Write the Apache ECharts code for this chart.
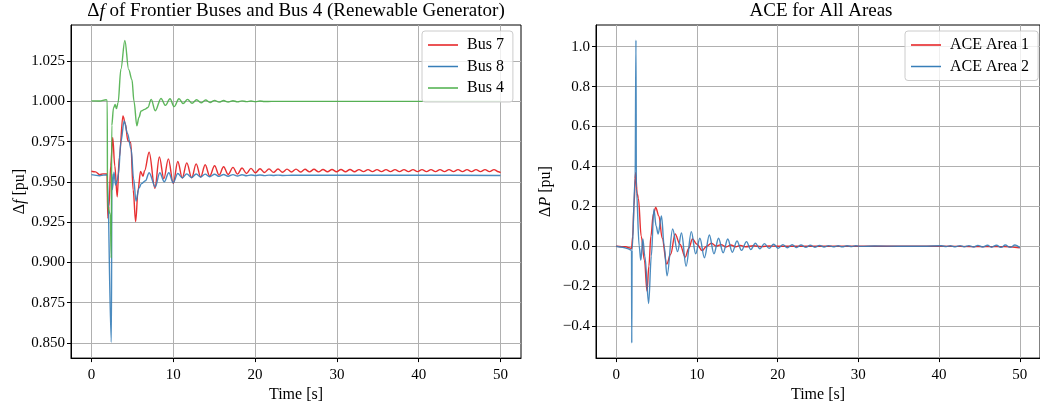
<!DOCTYPE html>
<html>
<head>
<meta charset="utf-8">
<script src="https://cdn.jsdelivr.net/npm/echarts@6/dist/echarts.min.js"></script>
<style>
html, body { margin: 0; padding: 0; background: #fff; }
#main { width: 1040px; height: 408px; }
</style>
</head>
<body>
<div id="main"></div>
<script>
// tick labels
var xTicks = [0, 10, 20, 30, 40, 50];
var freqTicks = [0.850, 0.875, 0.900, 0.925, 0.950, 0.975, 1.000, 1.025];
var aceTicks = [-0.4, -0.2, 0.0, 0.2, 0.4, 0.6, 0.8, 1.0];

// left panel: frequency at frontier buses, [time s, pu]
var bus7 = [
    [0, 0.9566], [0.5, 0.9562], [1.0, 0.9545], [1.4, 0.9550], [1.9, 0.9549], [2.0, 0.9275], [2.15, 0.935],
    [2.35, 0.960], [2.6, 0.9776], [2.85, 0.960], [3.15, 0.9407], [3.4, 0.965], [3.85, 0.991], [4.15, 0.986],
    [4.45, 0.9755], [4.8, 0.9745], [5.1, 0.945], [5.4, 0.9253], [5.7, 0.945], [6.0, 0.9565], [6.3, 0.9535],
    [6.5, 0.957], [7.05, 0.9684], [7.75, 0.9460], [8.3, 0.9655], [8.85, 0.9520], [9.4, 0.9643], [10.0, 0.9490],
    [10.55, 0.9627], [11.1, 0.9524], [11.65, 0.9618], [12.25, 0.9526], [12.8, 0.9612], [13.35, 0.9530],
    [13.9, 0.9606], [14.45, 0.9536], [15.05, 0.9600], [15.6, 0.9542], [16.15, 0.9594], [16.7, 0.9546],
    [17.3, 0.9590], [17.85, 0.9548], [18.4, 0.9586], [18.95, 0.9552], [19.5, 0.9584], [20.05, 0.9556],
    [20.6, 0.9582], [21.15, 0.9558], [21.7, 0.9581], [22.25, 0.9559], [22.8, 0.9580], [23.35, 0.9560],
    [23.9, 0.9579], [24.45, 0.9561], [25.0, 0.9579], [25.55, 0.9561], [26.1, 0.9578], [26.65, 0.9562],
    [27.2, 0.9578], [27.75, 0.9562], [28.3, 0.9577], [28.85, 0.9563], [29.4, 0.9577], [29.95, 0.9563],
    [30.5, 0.9577], [31.05, 0.9563], [31.6, 0.9577], [32.15, 0.9563], [32.7, 0.9576], [33.25, 0.9564],
    [33.8, 0.9576], [34.35, 0.9564], [34.9, 0.9576], [35.45, 0.9564], [36.0, 0.9576], [36.55, 0.9564],
    [37.1, 0.9576], [37.65, 0.9564], [38.2, 0.9576], [38.75, 0.9564], [39.3, 0.9576], [39.85, 0.9564],
    [40.4, 0.9576], [40.95, 0.9564], [41.5, 0.9576], [42.05, 0.9564], [42.6, 0.9576], [43.15, 0.9564],
    [43.7, 0.9576], [44.25, 0.9564], [44.8, 0.9576], [45.35, 0.9564], [45.9, 0.9576], [46.45, 0.9564],
    [47.0, 0.9576], [47.55, 0.9564], [48.1, 0.9576], [48.65, 0.9564], [49.2, 0.9576], [49.75, 0.9563],
    [50.0, 0.9558]
];
var bus8 = [
    [0, 0.9545], [1.0, 0.9538], [1.5, 0.9542], [1.93, 0.9543], [2.43, 0.8504], [2.5, 0.955], [2.55, 0.945],
    [2.75, 0.956], [2.95, 0.948], [3.15, 0.951], [3.3, 0.955], [3.6, 0.975], [4.0, 0.9879], [4.4, 0.980],
    [4.85, 0.9704], [5.15, 0.952], [5.45, 0.938], [5.8, 0.946], [6.1, 0.9489], [6.6, 0.9507], [7.05, 0.9557],
    [7.8, 0.9469], [8.35, 0.9557], [8.9, 0.9500], [9.45, 0.9557], [10.0, 0.9495], [10.55, 0.9552],
    [11.1, 0.9525], [11.65, 0.9550], [12.25, 0.9527], [12.8, 0.9549], [13.35, 0.9530], [13.9, 0.9548],
    [14.45, 0.9532], [15.05, 0.9547], [15.6, 0.9534], [16.15, 0.9546], [16.7, 0.9535], [17.3, 0.9545],
    [17.85, 0.9537], [18.4, 0.9544], [18.95, 0.9538], [19.5, 0.9543], [20.05, 0.9539], [20.6, 0.9543],
    [21.15, 0.9539], [21.7, 0.9542], [22.25, 0.9540], [22.8, 0.9542], [23.35, 0.9540], [24.5, 0.9541],
    [30.0, 0.9541], [40.0, 0.9541], [50.0, 0.9540]
];
var bus4 = [
    [0, 1.0003], [1.0, 1.0002], [1.8, 1.0010], [1.93, 1.0005], [1.96, 0.935], [2.3, 0.930], [2.42, 0.9027],
    [2.48, 0.985], [2.7, 0.996], [2.9, 0.998], [3.05, 0.9955], [3.25, 0.999], [3.6, 1.020], [4.08, 1.0378],
    [4.55, 1.0197], [4.95, 1.0135], [5.2, 1.000], [5.55, 0.9848], [5.8, 0.990], [6.07, 0.994], [6.5, 0.995],
    [6.9, 0.9962], [7.3, 1.0012], [7.8, 0.9942], [8.5, 1.0018], [9.05, 0.9975], [9.6, 1.0016], [10.1, 0.9967],
    [10.7, 1.0016], [11.2, 0.9986], [11.75, 1.0012], [12.3, 0.9988], [12.85, 1.0010], [13.4, 0.9991],
    [13.95, 1.0008], [14.5, 0.9993], [15.05, 1.0006], [15.6, 0.9995], [16.15, 1.0005], [16.7, 0.9996],
    [17.3, 1.0004], [17.85, 0.9997], [18.4, 1.0003], [18.95, 0.9998], [19.5, 1.0002], [20.05, 0.9998],
    [20.6, 1.0002], [21.15, 0.9999], [22.0, 1.0000], [30.0, 1.0000], [40.0, 1.0000], [50.0, 1.0000]
];

// right panel: area control error, [time s, pu]
var aceArea1 = [
    [0, 0.0], [0.7, -0.002], [1.2, -0.003], [1.6, -0.008], [1.9, -0.012], [2.05, 0.05], [2.2, 0.2],
    [2.4, 0.37], [2.6, 0.265], [2.75, 0.24], [3.1, 0.05], [3.5, -0.07], [3.82, -0.225], [4.05, -0.1],
    [4.3, 0.05], [4.6, 0.16], [4.9, 0.194], [5.3, 0.15], [5.7, 0.04], [6.26, -0.09], [6.75, -0.04],
    [7.3, 0.061], [7.9, 0.01], [8.55, -0.055], [9.0, -0.01], [9.45, 0.036], [10.0, 0.01], [10.65, -0.022],
    [11.2, 0.0], [11.8, 0.015], [12.4, 0.0], [13.0, 0.008], [13.6, -0.004], [14.2, 0.006], [14.8, -0.003],
    [15.4, 0.004], [16.0, -0.003], [17.0, 0.002], [18.0, -0.002], [19.0, 0.001], [20.0, 0.0], [30.0, 0.0],
    [40.0, 0.0], [45.0, -0.002], [48.0, -0.002], [50.0, -0.008]
];
var aceArea2 = [
    [0, 0.0], [0.8, -0.005], [1.4, -0.012], [1.9, -0.02], [1.93, -0.485], [1.97, -0.02], [2.35, 0.34],
    [2.45, 1.033], [2.5, 0.29], [2.85, 0.0], [3.05, -0.07], [3.3, 0.036], [3.55, -0.05], [4.02, -0.287],
    [4.35, -0.05], [4.67, 0.185], [4.95, 0.1], [5.2, 0.061], [5.61, 0.152], [5.95, 0.0], [6.3, -0.149],
    [6.99, 0.086], [7.6, -0.027], [8.09, 0.066], [8.66, -0.1], [9.31, 0.073], [9.84, -0.038], [10.37, 0.04],
    [10.93, -0.058], [11.54, 0.056], [12.11, -0.038], [12.68, 0.04], [13.25, -0.033], [13.82, 0.036],
    [14.39, -0.03], [14.96, 0.026], [15.53, -0.021], [16.14, 0.023], [16.67, -0.017], [17.24, 0.015],
    [17.8, -0.013], [18.37, 0.013], [18.94, -0.011], [19.5, 0.010], [20.08, -0.010], [20.65, 0.008],
    [21.2, -0.008], [21.8, 0.007], [22.35, -0.007], [22.9, 0.006], [23.5, -0.006], [24.05, 0.005],
    [24.6, -0.005], [25.2, 0.004], [25.75, -0.004], [26.3, 0.003], [26.9, -0.003], [27.5, 0.002],
    [28.0, -0.003], [28.6, 0.002], [29.2, -0.002], [29.7, 0.002], [30.3, -0.001], [32.0, 0.001],
    [35.0, 0.0], [38.0, 0.0], [40.3, 0.002], [40.9, -0.002], [41.4, 0.002], [42.0, -0.003], [42.6, 0.003],
    [43.1, -0.003], [43.7, 0.003], [44.3, -0.004], [44.8, 0.004], [45.4, -0.004], [46.0, 0.005],
    [46.5, -0.005], [47.1, 0.005], [47.7, -0.006], [48.2, 0.006], [48.8, -0.006], [49.4, 0.006], [50.0, -0.007]
];

var serif = '"Liberation Serif", "DejaVu Serif", serif';
var red = '#e41a1c', blue = '#377eb8', green = '#4daf4a';

function timeAxis(gridIndex) {
    return {
        type: 'value',
        gridIndex: gridIndex,
        min: -2.5,
        max: 52.5,
        name: 'Time [s]',
        nameLocation: 'middle',
        nameGap: 27,
        nameTextStyle: { fontFamily: serif, fontSize: 16, color: '#000' },
        axisLine: { show: true, onZero: false, lineStyle: { color: '#000', width: 1 } },
        axisTick: { show: true, length: 4, customValues: xTicks, lineStyle: { color: '#000' } },
        axisLabel: { customValues: xTicks, fontFamily: serif, fontSize: 15, color: '#000', margin: 9 },
        splitLine: { show: true, lineStyle: { color: '#b0b0b0', width: 1 } }
    };
}

function valueAxis(gridIndex, min, max, ticks, digits, name) {
    return {
        type: 'value',
        gridIndex: gridIndex,
        min: min,
        max: max,
        name: name,
        nameLocation: 'middle',
        nameGap: 42,
        nameTextStyle: {
            fontFamily: serif, fontSize: 16, color: '#000',
            rich: {
                n: { fontFamily: serif, fontSize: 16, color: '#000' },
                i: { fontFamily: serif, fontSize: 16, color: '#000', fontStyle: 'italic' }
            }
        },
        axisLine: { show: true, onZero: false, lineStyle: { color: '#000', width: 1 } },
        axisTick: { show: true, length: 4, customValues: ticks, lineStyle: { color: '#000' } },
        axisLabel: {
            customValues: ticks, fontFamily: serif, fontSize: 15, color: '#000', margin: 6,
            formatter: function (v) { return v.toFixed(digits).replace('-', '\u2212'); }
        },
        splitLine: { show: true, lineStyle: { color: '#b0b0b0', width: 1 } }
    };
}

function lineSeries(name, data, color, xi, yi) {
    return {
        name: name,
        type: 'line',
        xAxisIndex: xi,
        yAxisIndex: yi,
        data: data,
        symbol: 'none',
        smooth: 0.35,
        smoothMonotone: 'x',
        animation: false,
        lineStyle: { color: color, width: 1.4, opacity: 0.9 },
        itemStyle: { color: color }
    };
}

var legendBase = {
    orient: 'vertical',
    icon: 'rect',
    itemWidth: 30,
    itemHeight: 1.5,
    itemGap: 5.5,
    backgroundColor: 'rgba(255,255,255,0.8)',
    borderColor: '#cccccc',
    borderWidth: 1,
    borderRadius: 3,
    padding: [6, 9, 6, 6],
    textStyle: { fontFamily: serif, fontSize: 16, color: '#000', padding: [0, 0, 0, 4] }
};

var titleRich = {
    n: { fontFamily: serif, fontSize: 19, fontWeight: 'normal', color: '#000' },
    i: { fontFamily: serif, fontSize: 19, fontWeight: 'normal', color: '#000', fontStyle: 'italic' }
};

var myChart = echarts.init(document.getElementById('main'));

var option = {
    backgroundColor: '#fff',
    title: [{
        text: '{n|\u0394}{i|f}{n| of Frontier Buses and Bus 4 (Renewable Generator)}',
        left: 296,
        top: 2,
        padding: 0,
        textAlign: 'center',
        textStyle: { fontWeight: 'normal', rich: titleRich }
    }, {
        text: 'ACE for All Areas',
        left: 821,
        top: 2,
        padding: 0,
        textAlign: 'center',
        textStyle: { fontFamily: serif, fontSize: 19, fontWeight: 'normal', color: '#000' }
    }],
    legend: [
        Object.assign({}, legendBase, { left: 422, top: 31, data: ['Bus 7', 'Bus 8', 'Bus 4'] }),
        Object.assign({}, legendBase, { left: 905, top: 31, data: ['ACE Area 1', 'ACE Area 2'] })
    ],
    grid: [
        { left: 71, right: 519, top: 25, bottom: 48, show: true, borderColor: '#000', borderWidth: 1 },
        { left: 596, right: -6, top: 25, bottom: 48, show: true, borderColor: '#000', borderWidth: 1 }
    ],
    xAxis: [timeAxis(0), timeAxis(1)],
    yAxis: [
        valueAxis(0, 0.8406, 1.0474, freqTicks, 3, '{n|\u0394}{i|f}{n| [pu]}'),
        valueAxis(1, -0.561, 1.109, aceTicks, 1, '{n|\u0394}{i|P}{n| [pu]}')
    ],
    series: [
        lineSeries('Bus 7', bus7, red, 0, 0),
        lineSeries('Bus 8', bus8, blue, 0, 0),
        lineSeries('Bus 4', bus4, green, 0, 0),
        lineSeries('ACE Area 1', aceArea1, red, 1, 1),
        lineSeries('ACE Area 2', aceArea2, blue, 1, 1)
    ]
};
myChart.setOption(option);
</script>
</body>
</html>
